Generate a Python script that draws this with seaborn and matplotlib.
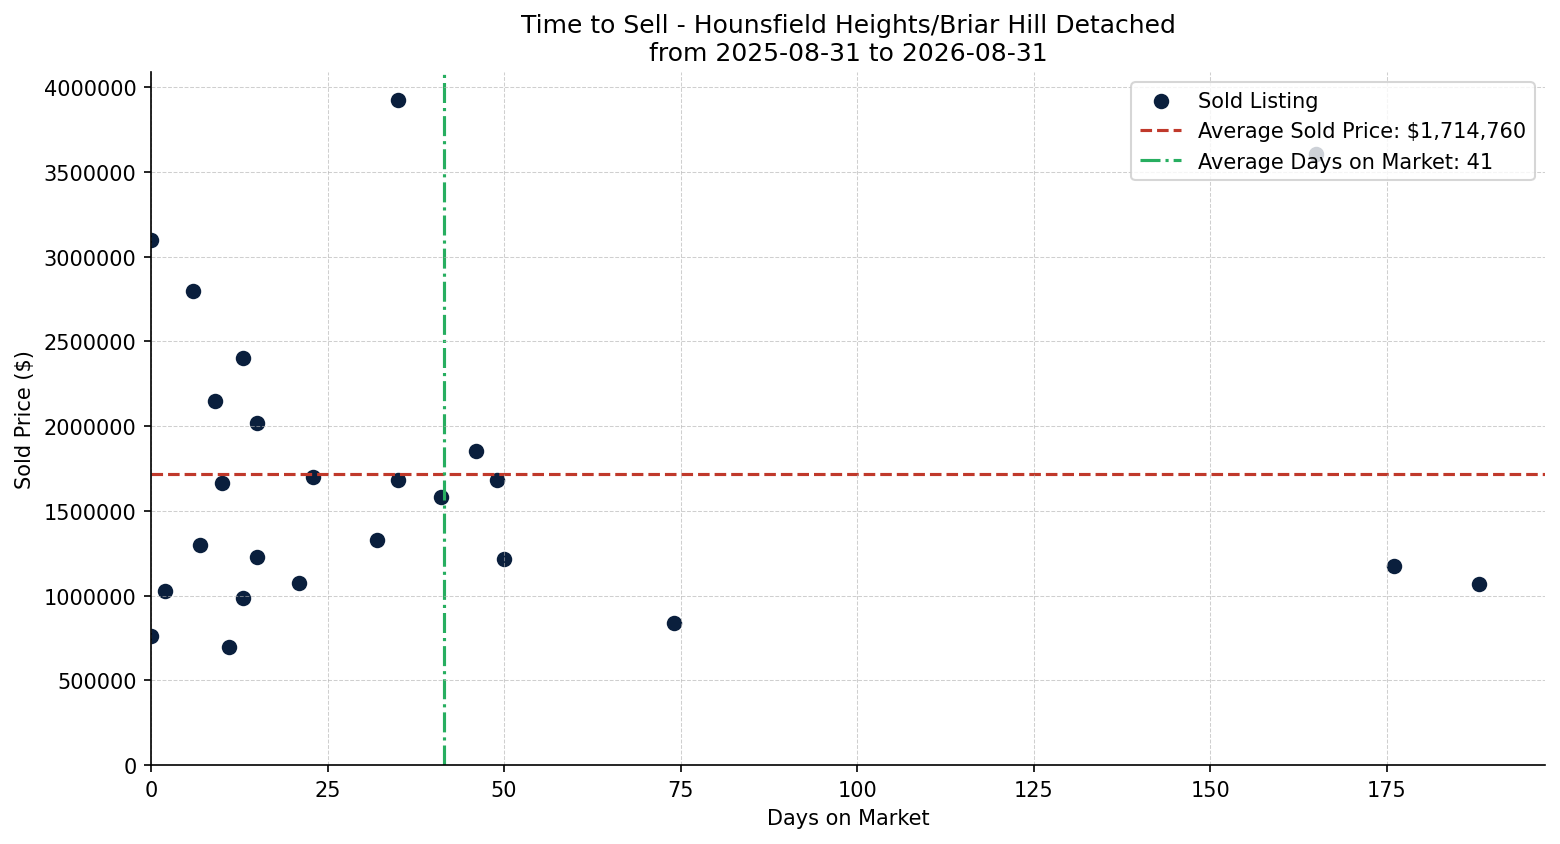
import matplotlib
matplotlib.use("Agg")
import matplotlib.pyplot as plt
import seaborn as sns
import numpy as np
import pandas as pd

days = [0, 0, 2, 6, 7, 9, 10, 11, 13, 13, 15, 15, 21, 23, 32, 35, 35, 41, 46, 49, 50, 74, 165, 176, 188]
prices = [3100000, 764000, 1024000, 2800000, 1297000, 2148000, 1665000, 699000, 2400000, 984000,
          2016000, 1225000, 1077000, 1698000, 1326000, 3925000, 1681000, 1580000, 1852000, 1681000,
          1213000, 840000, 3608000, 1172000, 1067000]
avg_price = 1714760

title_lines = ["Time to Sell - Hounsfield Heights/Briar Hill Detached", "from 2025-08-31 to 2026-08-31"]
x_label = "Days on Market"
y_label = "Sold Price ($)"

df = pd.DataFrame({"days": days, "price": prices})
avg_days = float(np.mean(days))

plt.rcParams['font.family'] = ['DejaVu Sans']
fig, ax = plt.subplots(figsize=(10.4, 5.6333), dpi=150)
fig.subplots_adjust(left=0.0968, right=0.9904, bottom=0.0935, top=0.9136)

sns.scatterplot(data=df, x="days", y="price", ax=ax, color="#0a1f3d", s=55,
                linewidth=0, label="Sold Listing", zorder=1)
ax.axhline(avg_price, color="#c0392b", linestyle="--", linewidth=1.5,
           label=f"Average Sold Price: ${avg_price:,.0f}")
ax.axvline(avg_days, color="#27ae60", linestyle="-.", linewidth=1.5,
           label=f"Average Days on Market: {int(avg_days)}")

ax.set_xlim(0, max(days) * 1.05)
ax.set_ylim(0, max(prices) * 1.042)
ax.ticklabel_format(axis="y", style="plain", useOffset=False)
ax.grid(True, linestyle="--", linewidth=0.5, color="#b0b0b0", alpha=0.6)
ax.set_axisbelow(False)
for sp in ["top", "right"]:
    ax.spines[sp].set_visible(False)
for sp in ["left", "bottom"]:
    ax.spines[sp].set_zorder(3)

ax.set_title("\n".join(title_lines), fontsize=12)
ax.set_xlabel(x_label, fontsize=10)
ax.set_ylabel(y_label, fontsize=10)
ax.tick_params(labelsize=10)
ax.legend(loc="upper right", fontsize=10)

fig.savefig("out.png", dpi=150)
